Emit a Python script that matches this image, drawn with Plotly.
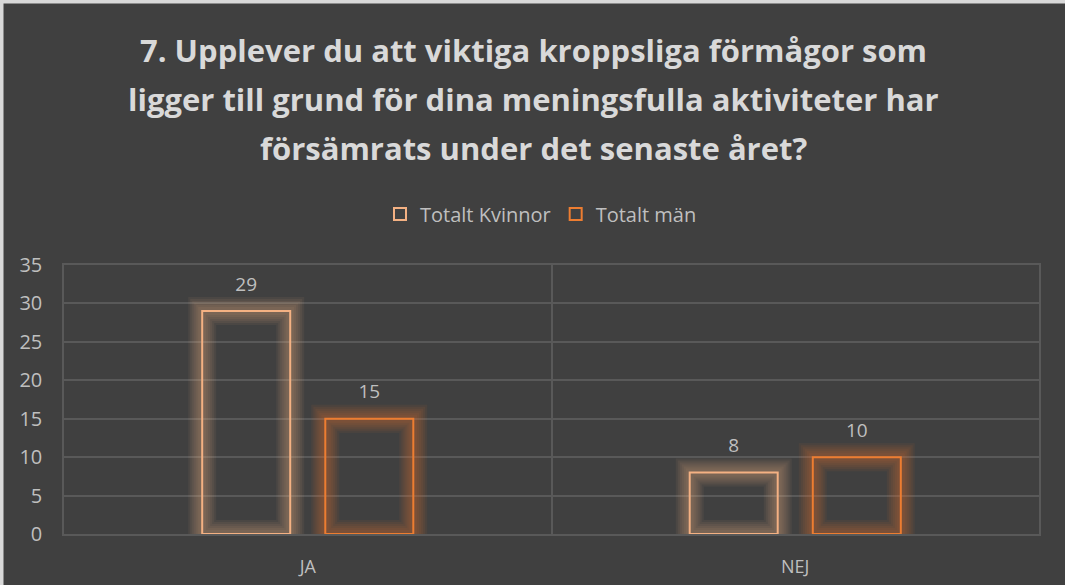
import plotly.graph_objects as go

categories = ["JA", "NEJ"]
kvinnor = [29, 8]
man = [15, 10]
series_names = ["Totalt Kvinnor", "Totalt män"]
colors = ["#F4B183", "#ED7D31"]
glow_rgb = ["244,177,131", "237,125,49"]
title_lines = ["7. Upplever du att viktiga kroppsliga förmågor som",
               "ligger till grund för dina meningsfulla aktiviteter har",
               "försämrats under det senaste året?"]

W, H = 1065, 585
ml, mr, mt, mb = 64, 26, 265, 51
pw, ph = W - ml - mr, H - mt - mb
GRID = "#595959"


def px_x(p):
    return (p - ml) / pw


def px_y(p):
    return (H - mb - p) / ph


fig = go.Figure()
for i, (name, vals) in enumerate(zip(series_names, [kvinnor, man])):
    # soft glow layers
    for lw in [28, 24, 20, 16, 12, 8]:
        fig.add_trace(go.Bar(
            x=categories, y=vals, offsetgroup=str(i), showlegend=False,
            hoverinfo="skip",
            marker=dict(color="rgba(0,0,0,0)",
                        line=dict(color=f"rgba({glow_rgb[i]},0.065)", width=lw))))
    fig.add_trace(go.Bar(
        x=categories, y=vals, name=name, offsetgroup=str(i),
        marker=dict(color="rgba(0,0,0,0)", line=dict(color=colors[i], width=2)),
        text=[f"<span style='font-size:19px'>{v}</span><br> " for v in vals],
        textposition="outside",
        textfont=dict(color="#bfbfbf", size=11, family="Open Sans"),
        cliponaxis=False))

# light frame on left/top edge
fig.add_shape(type="rect", xref="paper", yref="paper",
              x0=px_x(0), x1=px_x(3.5), y0=px_y(H), y1=px_y(0),
              fillcolor="#d9d9d9", line=dict(width=0), layer="above")
fig.add_shape(type="rect", xref="paper", yref="paper",
              x0=px_x(0), x1=px_x(W), y0=px_y(3.5), y1=px_y(0),
              fillcolor="#d9d9d9", line=dict(width=0), layer="above")

for k, (line, yc) in enumerate(zip(title_lines, [50, 99, 148])):
    fig.add_annotation(text=f"<b>{line}</b>", xref="paper", yref="paper",
                       x=px_x(533), y=px_y(yc), xanchor="center", yanchor="middle",
                       showarrow=False,
                       font=dict(family="Open Sans", size=31, color="#d9d9d9"))

fig.update_layout(
    width=W, height=H,
    margin=dict(l=ml, r=mr, t=mt, b=mb, autoexpand=False),
    paper_bgcolor="#404040", plot_bgcolor="#404040",
    barmode="group", bargap=0.495, bargroupgap=0.285,
    legend=dict(orientation="h", x=px_x(541), xanchor="center",
                y=px_y(214), yanchor="middle",
                font=dict(family="Open Sans", size=20, color="#bfbfbf"),
                bgcolor="rgba(0,0,0,0)", itemwidth=30),
    font=dict(family="Open Sans", color="#bfbfbf"),
    showlegend=True,
)
fig.update_xaxes(showgrid=True, gridcolor=GRID, gridwidth=1.5, tickson="boundaries",
                 ticks="", tickfont=dict(size=18, color="#bfbfbf"),
                 showline=True, mirror=True, linecolor=GRID, linewidth=1.5,
                 zeroline=False, ticklabelstandoff=16)
fig.update_yaxes(range=[0, 35], dtick=5, showgrid=True, gridcolor=GRID, gridwidth=1.5,
                 tickfont=dict(size=20, color="#bfbfbf"), zeroline=False, ticks="",
                 showline=True, mirror=True, linecolor=GRID, linewidth=1.5,
                 ticklabelstandoff=16)
fig.write_html("out.html", config={"displayModeBar": False},
               post_script="document.body.style.margin='0';"
                           "document.body.style.overflow='hidden';")
